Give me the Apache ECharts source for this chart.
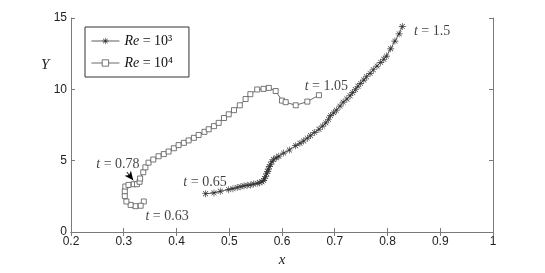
<!DOCTYPE html>
<html><head><meta charset="utf-8">
<script src="https://cdn.jsdelivr.net/npm/echarts@6/dist/echarts.min.js"></script>
<style>html,body{margin:0;padding:0;background:#fff}#c{width:545px;height:273px}</style>
</head><body><div id="c"></div>
<script>
// Re = 10^3 trajectory (x, Y)
const re3X = [0.455,0.471,0.483,0.499,0.507,0.515,0.522,0.528,0.534,0.540,0.546,0.553,0.558,0.562,0.565,0.567,0.569,0.571,0.573,0.574,0.576,0.578,0.581,0.584,0.589,0.594,0.603,0.614,0.626,0.634,0.641,0.648,0.654,0.662,0.670,0.677,0.683,0.688,0.692,0.698,0.703,0.710,0.716,0.723,0.729,0.734,0.739,0.744,0.749,0.755,0.760,0.767,0.773,0.780,0.787,0.793,0.798,0.806,0.814,0.822,0.828];
const re3Y = [2.68,2.74,2.86,2.97,3.04,3.12,3.18,3.24,3.27,3.30,3.36,3.41,3.46,3.52,3.62,3.75,3.91,4.08,4.25,4.41,4.58,4.75,4.92,5.08,5.20,5.31,5.53,5.75,6.05,6.22,6.38,6.58,6.76,6.98,7.20,7.42,7.65,7.90,8.16,8.35,8.54,8.82,9.10,9.32,9.55,9.77,9.99,10.22,10.42,10.65,10.88,11.12,11.37,11.63,11.89,12.11,12.33,12.84,13.38,13.89,14.41];
// Re = 10^4 trajectory (x, Y)
const re4X = [0.338,0.332,0.322,0.313,0.305,0.302,0.302,0.303,0.309,0.319,0.325,0.330,0.331,0.337,0.341,0.347,0.356,0.366,0.376,0.385,0.395,0.404,0.414,0.423,0.433,0.442,0.453,0.461,0.471,0.480,0.490,0.499,0.509,0.520,0.531,0.540,0.553,0.565,0.575,0.588,0.600,0.607,0.626,0.648,0.670];
const re4Y = [2.14,1.84,1.81,1.90,2.14,2.52,2.86,3.19,3.30,3.35,3.35,3.52,3.75,4.19,4.53,4.86,5.08,5.31,5.46,5.64,5.87,6.09,6.25,6.42,6.60,6.80,7.02,7.20,7.42,7.65,7.99,8.25,8.54,8.88,9.32,9.66,9.99,10.03,10.10,9.88,9.21,9.10,8.88,9.14,9.59];
// annotations: [x, Y, text]
const notesX = [0.850,0.643,0.248,0.341,0.413];
const notesY = [14.1,10.2,4.73,1.12,3.46];
const notesT = ['1.5','1.05','0.78','0.63','0.65'];
const arrowFrom = [0.306,4.2], arrowTo = [0.318,3.62];

function starPath(){
  const parts=[]; const w=0.09, L=1;
  for(let k=0;k<4;k++){
    const a=k*Math.PI/4, c=Math.cos(a), s=Math.sin(a);
    const pts=[[-L,-w],[L,-w],[L,w],[-L,w]].map(p=>[(p[0]*c-p[1]*s).toFixed(3),(p[0]*s+p[1]*c).toFixed(3)]);
    parts.push('M'+pts.map(p=>p.join(',')).join('L')+'Z');
  }
  return 'path://'+parts.join(' ');
}
const chart = echarts.init(document.getElementById('c'));
const serif = '"Liberation Serif","DejaVu Serif",serif';
const sans = '"Liberation Sans","DejaVu Sans",sans-serif';
const axisCol = '#7a7a7a';
const tick = {show:true,inside:true,length:4,lineStyle:{color:axisCol}};
const option = {
  animation:false,
  grid:{left:71,right:52,top:18,bottom:30,containLabel:false},
  legend:{
    left:85,top:27,orient:'vertical',itemWidth:28,itemHeight:8,itemGap:8,
    padding:[7,16,7,6],borderColor:'#333',borderWidth:1,backgroundColor:'#fff',
    lineStyle:{width:0.8},
    textStyle:{fontFamily:serif,fontSize:14,color:'#111',rich:{it:{fontFamily:serif,fontStyle:'italic',fontSize:14,color:'#111'}}},
    formatter:n=>n==='re3'?'{it|Re} = 10³':'{it|Re} = 10⁴',
    data:[{name:'re3',itemStyle:{color:'#333'}},{name:'re4',itemStyle:{color:'#fff',borderColor:'#555',borderWidth:0.8}}]
  },
  graphic:[{type:'text',left:41,top:58,style:{text:'Y',font:'italic 15px '+serif,fill:'#222'}}],
  xAxis:[{type:'value',min:0.2,max:1,interval:0.1,position:'bottom',
    axisLine:{show:true,lineStyle:{color:axisCol,width:1}},axisTick:tick,splitLine:{show:false},
    axisLabel:{color:'#222',fontFamily:sans,fontSize:12,margin:4,formatter:v=>String(+v.toFixed(1))},
    name:'x',nameLocation:'middle',nameGap:21,nameTextStyle:{fontFamily:serif,fontStyle:'italic',fontSize:15,color:'#222'}},
   {type:'value',min:0.2,max:1,interval:0.1,position:'top',
    axisLine:{show:true,lineStyle:{color:axisCol}},axisTick:tick,axisLabel:{show:false},splitLine:{show:false}}],
  yAxis:[{type:'value',min:0,max:15,interval:5,position:'left',
    axisLine:{show:true,lineStyle:{color:axisCol}},axisTick:tick,
    splitLine:{show:false},axisLabel:{color:'#222',fontFamily:sans,fontSize:12,margin:4}},
   {type:'value',min:0,max:15,interval:5,position:'right',
    axisLine:{show:true,lineStyle:{color:axisCol}},axisTick:tick,axisLabel:{show:false},splitLine:{show:false}}],
  series:[
    {name:'re3',type:'line',data:re3X.map((x,i)=>[x,re3Y[i]]),symbol:starPath(),symbolSize:7,
     lineStyle:{color:'#333',width:0.8},itemStyle:{color:'#333'},showAllSymbol:true},
    {name:'re4',type:'line',data:re4X.map((x,i)=>[x,re4Y[i]]),symbol:'rect',symbolSize:5,
     lineStyle:{color:'#444',width:0.8},itemStyle:{color:'#fff',borderColor:'#555',borderWidth:0.8},showAllSymbol:true,
     markLine:{silent:true,symbol:['none','arrow'],symbolSize:[6,9],lineStyle:{color:'#000',width:1,type:'solid'},label:{show:false},
       data:[[{coord:arrowFrom},{coord:arrowTo}]]}},
    {name:'notes',type:'scatter',symbolSize:0,silent:true,
     data:notesX.map((x,i)=>({value:[x,notesY[i]],label:{show:true,position:'right',distance:0,
       formatter:'{it|t} = '+notesT[i]}})),
     label:{fontFamily:serif,fontSize:14,color:'#111',rich:{it:{fontFamily:serif,fontStyle:'italic',fontSize:14,color:'#111'}}}}
  ]
};
chart.setOption(option);
</script></body></html>
